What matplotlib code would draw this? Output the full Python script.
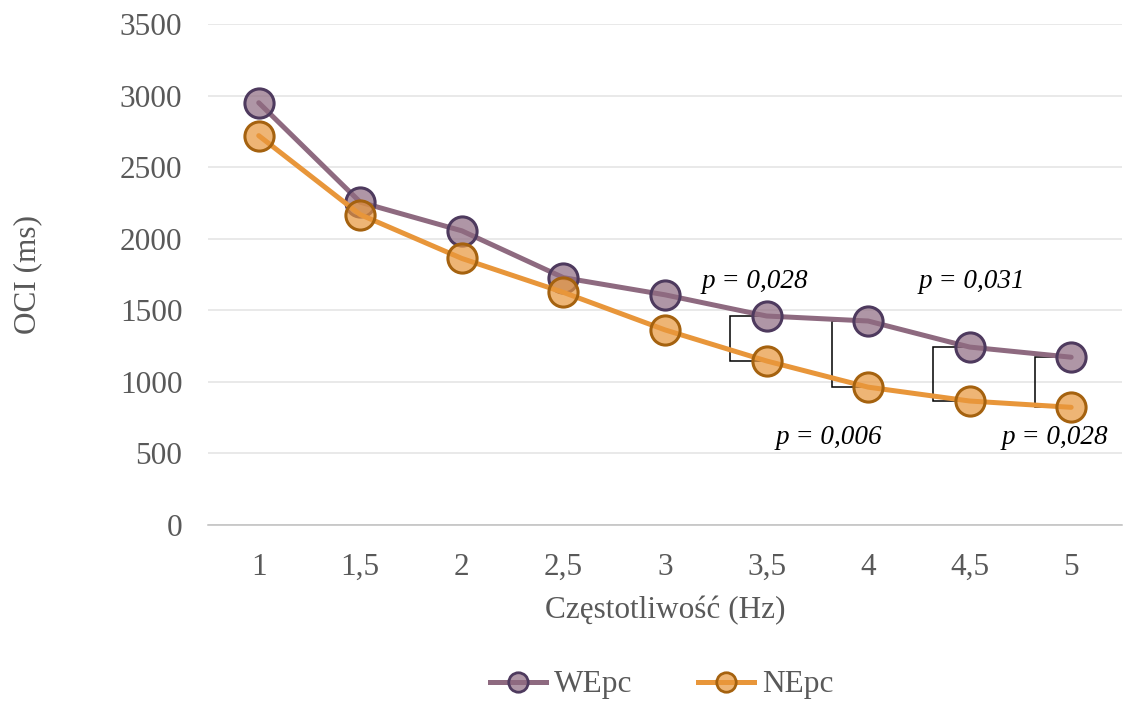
import matplotlib
matplotlib.use("Agg")
import matplotlib.pyplot as plt
from matplotlib.lines import Line2D

freq_labels = ["1", "1,5", "2", "2,5", "3", "3,5", "4", "4,5", "5"]
wepc = [2950, 2255, 2055, 1728, 1608, 1460, 1425, 1243, 1172]
nepc = [2720, 2168, 1862, 1625, 1363, 1146, 963, 866, 822]
sig_idx = [5, 6, 7, 8]
p_labels = ["p = 0,028", "p = 0,006", "p = 0,031", "p = 0,028"]

plt.rcParams['font.family'] = ['Liberation Serif', 'DejaVu Serif']

fig = plt.figure(figsize=(11.26, 7.04), dpi=100)
ax = fig.add_axes([0.1847, 0.2543, 0.8117, 0.7116])

x = list(range(len(freq_labels)))
w_line, w_face, w_edge = "#8E6A80", (0.557, 0.416, 0.502, 0.7), "#4E3A5E"
n_line, n_face, n_edge = "#E8963A", (0.91, 0.59, 0.23, 0.7), "#A5620F"

# significance brackets (behind markers)
off = 0.36
for i in sig_idx:
    ax.plot([i, i - off, i - off, i], [wepc[i], wepc[i], nepc[i], nepc[i]],
            color="black", lw=1.1, zorder=2, solid_joinstyle="miter")

ax.plot(x, wepc, color=w_line, lw=3.6, marker="o", ms=21, mfc=w_face,
        mec=w_edge, mew=2.2, zorder=3, label="WEpc", solid_capstyle="round")
ax.plot(x, nepc, color=n_line, lw=3.6, marker="o", ms=21, mfc=n_face,
        mec=n_edge, mew=2.2, zorder=3, label="NEpc", solid_capstyle="round")

# p-value labels
p_pos = [(4.89, 1698), (5.61, 608), (7.02, 1698), (7.84, 608)]
for (px, py), lab in zip(p_pos, p_labels):
    ax.text(px, py, lab, ha="center", va="center", fontsize=19.5,
            style="italic", color="black")

ax.set_xlim(-0.5, len(freq_labels) - 0.5)
ax.set_ylim(0, 3500)
ax.set_yticks(range(0, 3501, 500))
ax.set_xticks(x)
ax.set_xticklabels(freq_labels)
ax.tick_params(axis="both", length=0, labelsize=22.5, labelcolor="#595959")
ax.tick_params(axis="y", pad=18.5)
ax.tick_params(axis="x", pad=20)
ax.grid(axis="y", color="#E3E3E3", lw=1.1)
ax.set_axisbelow(True)
for s in ["top", "right", "left"]:
    ax.spines[s].set_visible(False)
ax.spines["bottom"].set_color("#BFBFBF")
ax.spines["bottom"].set_linewidth(1.1)

ax.set_xlabel("Częstotliwość (Hz)", fontsize=22.5, color="#595959", labelpad=10)
ax.set_ylabel("OCI (ms)", fontsize=22.5, color="#595959", labelpad=56)

handles = [
    Line2D([], [], color=w_line, lw=3.6, marker="o", ms=14, mfc=w_face, mec=w_edge, mew=2),
    Line2D([], [], color=n_line, lw=3.6, marker="o", ms=14, mfc=n_face, mec=n_edge, mew=2),
]
fig.legend(handles, ["WEpc", "NEpc"], loc="center", bbox_to_anchor=(0.5875, 0.027),
           ncol=2, frameon=False, fontsize=22.5, labelcolor="#595959",
           handlelength=1.8, columnspacing=2.1, handletextpad=0.25)

fig.savefig("out.png", dpi=100)
